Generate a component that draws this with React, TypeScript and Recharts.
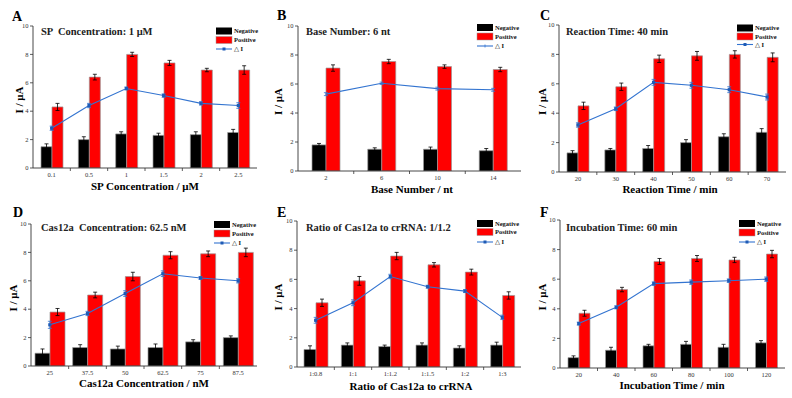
import React from 'react';
import { ComposedChart, Bar, Line, XAxis, YAxis, ErrorBar } from 'recharts';

const FONT = "'Liberation Serif', 'Times New Roman', 'DejaVu Serif', serif";

// ---- Panel A: SP concentration ----
const spCategories = ['0.1', '0.5', '1', '1.5', '2', '2.5'];
const spNegative = [1.5, 2.0, 2.4, 2.3, 2.35, 2.5];
const spNegativeErr = [0.2, 0.2, 0.15, 0.15, 0.2, 0.22];
const spPositive = [4.3, 6.4, 8.0, 7.4, 6.9, 6.9];
const spPositiveErr = [0.25, 0.2, 0.15, 0.18, 0.12, 0.3];
const spDelta = [2.8, 4.4, 5.6, 5.1, 4.55, 4.4];
const spDeltaErr = [0.15, 0.15, 0.1, 0.12, 0.12, 0.2];

// ---- Panel B: base number ----
const baseCategories = ['2', '6', '10', '14'];
const baseNegative = [1.8, 1.5, 1.5, 1.4];
const baseNegativeErr = [0.1, 0.1, 0.15, 0.15];
const basePositive = [7.1, 7.55, 7.2, 7.0];
const basePositiveErr = [0.22, 0.15, 0.12, 0.15];
const baseDelta = [5.3, 6.05, 5.68, 5.6];
const baseDeltaErr = [0.1, 0.08, 0.1, 0.1];

// ---- Panel C: reaction time ----
const reactCategories = ['20', '30', '40', '50', '60', '70'];
const reactNegative = [1.3, 1.5, 1.6, 2.0, 2.4, 2.7];
const reactNegativeErr = [0.15, 0.1, 0.2, 0.2, 0.2, 0.25];
const reactPositive = [4.5, 5.8, 7.7, 7.9, 8.0, 7.8];
const reactPositiveErr = [0.25, 0.25, 0.25, 0.3, 0.25, 0.3];
const reactDelta = [3.2, 4.3, 6.1, 5.9, 5.6, 5.1];
const reactDeltaErr = [0.15, 0.12, 0.2, 0.2, 0.2, 0.2];

// ---- Panel D: Cas12a concentration ----
const casCategories = ['25', '37.5', '50', '62.5', '75', '87.5'];
const casNegative = [0.9, 1.3, 1.2, 1.3, 1.7, 2.0];
const casNegativeErr = [0.3, 0.2, 0.2, 0.25, 0.15, 0.12];
const casPositive = [3.8, 5.0, 6.3, 7.8, 7.9, 8.0];
const casPositiveErr = [0.25, 0.2, 0.3, 0.25, 0.2, 0.3];
const casDelta = [2.9, 3.7, 5.1, 6.5, 6.2, 6.0];
const casDeltaErr = [0.25, 0.15, 0.2, 0.2, 0.1, 0.15];

// ---- Panel E: ratio Cas12a : crRNA ----
const ratioCategories = ['1:0.8', '1:1', '1:1.2', '1:1.5', '1:2', '1:3'];
const ratioNegative = [1.2, 1.5, 1.4, 1.5, 1.3, 1.5];
const ratioNegativeErr = [0.25, 0.15, 0.1, 0.15, 0.15, 0.2];
const ratioPositive = [4.4, 5.9, 7.6, 7.0, 6.5, 4.9];
const ratioPositiveErr = [0.25, 0.3, 0.25, 0.15, 0.2, 0.25];
const ratioDelta = [3.2, 4.4, 6.2, 5.5, 5.2, 3.4];
const ratioDeltaErr = [0.2, 0.2, 0.15, 0.1, 0.1, 0.15];

// ---- Panel F: incubation time ----
const incubCategories = ['20', '40', '60', '80', '100', '120'];
const incubNegative = [0.7, 1.2, 1.5, 1.6, 1.4, 1.7];
const incubNegativeErr = [0.12, 0.2, 0.1, 0.2, 0.2, 0.15];
const incubPositive = [3.7, 5.3, 7.2, 7.4, 7.3, 7.7];
const incubPositiveErr = [0.2, 0.15, 0.2, 0.2, 0.18, 0.25];
const incubDelta = [3.0, 4.1, 5.7, 5.8, 5.9, 6.0];
const incubDeltaErr = [0.1, 0.1, 0.12, 0.15, 0.12, 0.15];

const yTicks = [0, 2, 4, 6, 8, 10];

const RED = '#ff0000';
const BLUE = '#3374d0';
const BLUE_DARK = '#1f5bb5';
const AXIS = '#333333';

type PanelCfg = {
  letter: string;
  title: string;
  xLabel: string;
  categories: string[];
  neg: number[];
  negErr: number[];
  pos: number[];
  posErr: number[];
  delta: number[];
  deltaErr: number[];
  left: number;
  top: number;
  height: number;
  x0: number;
  x1: number;
  yTop: number;
  yBot: number;
  barSize: number;
  letterPos: [number, number];
  titlePos: [number, number];
  legendX: number;
  legendRows: [number, number, number];
  xLabelPos: [number, number];
  yLabelX: number;
  dots: boolean;
};

const panels: PanelCfg[] = [
  {
    letter: 'A', title: 'SP  Concentration: 1 μM', xLabel: 'SP Concentration / μM',
    categories: spCategories, neg: spNegative, negErr: spNegativeErr, pos: spPositive, posErr: spPositiveErr, delta: spDelta, deltaErr: spDeltaErr,
    left: 0, top: 0, height: 200, x0: 33, x1: 257, yTop: 26, yBot: 168, barSize: 11,
    letterPos: [12, 20.5], titlePos: [41, 34.5], legendX: 216, legendRows: [31, 40, 49], xLabelPos: [145, 189.5], yLabelX: 23, dots: true,
  },
  {
    letter: 'B', title: 'Base Number: 6 nt', xLabel: 'Base Number / nt',
    categories: baseCategories, neg: baseNegative, negErr: baseNegativeErr, pos: basePositive, posErr: basePositiveErr, delta: baseDelta, deltaErr: baseDeltaErr,
    left: 264, top: 0, height: 200, x0: 298, x1: 521, yTop: 26, yBot: 171, barSize: 14,
    letterPos: [277, 20], titlePos: [306, 35], legendX: 477, legendRows: [27.5, 36.5, 46], xLabelPos: [412, 192.5], yLabelX: 282, dots: false,
  },
  {
    letter: 'C', title: 'Reaction Time: 40 min', xLabel: 'Reaction Time / min',
    categories: reactCategories, neg: reactNegative, negErr: reactNegativeErr, pos: reactPositive, posErr: reactPositiveErr, delta: reactDelta, deltaErr: reactDeltaErr,
    left: 528, top: 0, height: 200, x0: 559, x1: 786, yTop: 25, yBot: 172, barSize: 11,
    letterPos: [540, 20], titlePos: [566, 35], legendX: 737, legendRows: [28, 36.5, 44.5], xLabelPos: [670, 192.5], yLabelX: 546, dots: true,
  },
  {
    letter: 'D', title: 'Cas12a  Concentration: 62.5 nM', xLabel: 'Cas12a Concentration / nM',
    categories: casCategories, neg: casNegative, negErr: casNegativeErr, pos: casPositive, posErr: casPositiveErr, delta: casDelta, deltaErr: casDeltaErr,
    left: 0, top: 200, height: 198, x0: 31, x1: 257, yTop: 224, yBot: 366, barSize: 15,
    letterPos: [13, 217], titlePos: [41, 231], legendX: 214, legendRows: [224.5, 233.5, 243], xLabelPos: [144, 386.5], yLabelX: 17, dots: true,
  },
  {
    letter: 'E', title: 'Ratio of Cas12a to crRNA: 1/1.2', xLabel: 'Ratio of Cas12a to crRNA',
    categories: ratioCategories, neg: ratioNegative, negErr: ratioNegativeErr, pos: ratioPositive, posErr: ratioPositiveErr, delta: ratioDelta, deltaErr: ratioDeltaErr,
    left: 264, top: 200, height: 198, x0: 297, x1: 521, yTop: 221, yBot: 367, barSize: 12,
    letterPos: [277, 217], titlePos: [306, 231], legendX: 477, legendRows: [223.5, 232, 242], xLabelPos: [411, 389.5], yLabelX: 282, dots: true,
  },
  {
    letter: 'F', title: 'Incubation Time: 60 min', xLabel: 'Incubation Time / min',
    categories: incubCategories, neg: incubNegative, negErr: incubNegativeErr, pos: incubPositive, posErr: incubPositiveErr, delta: incubDelta, deltaErr: incubDeltaErr,
    left: 528, top: 200, height: 198, x0: 560, x1: 785, yTop: 220, yBot: 368, barSize: 11,
    letterPos: [540, 217], titlePos: [566, 231], legendX: 739, legendRows: [223.5, 232.5, 242], xLabelPos: [672, 388.5], yLabelX: 546, dots: true,
  },
];

const SquareDot = (props: any) => {
  const { cx, cy } = props;
  if (cx == null || cy == null) return null;
  return <rect x={cx - 1.6} y={cy - 1.6} width={3.2} height={3.2} fill={BLUE_DARK} />;
};

const txt = (size: number, bold = true, color = '#000'): React.CSSProperties => ({
  fontFamily: FONT,
  fontSize: size,
  fontWeight: bold ? 'bold' : 'normal',
  fill: color,
});

function Panel({ cfg }: { cfg: PanelCfg }) {
  const W = 264;
  const H = cfg.height;
  const data = cfg.categories.map((c, i) => ({
    cat: c,
    neg: cfg.neg[i],
    negErr: cfg.negErr[i],
    pos: cfg.pos[i],
    posErr: cfg.posErr[i],
    delta: cfg.delta[i],
    deltaErr: cfg.deltaErr[i],
  }));
  const yAxisWidth = cfg.x0 - cfg.left;
  const axisYLocal = cfg.yBot - cfg.top;
  const xAxisHeight = H - axisYLocal;
  const n = cfg.categories.length;
  const band = (cfg.x1 - cfg.x0) / n;

  const XTick = (props: any) => {
    const { x, payload, index } = props;
    return (
      <g>
        <text x={x} y={axisYLocal + 9} textAnchor="middle" style={txt(6.5, false, AXIS)}>
          {payload.value}
        </text>
        {index < n - 1 && (
          <line x1={x + band / 2} x2={x + band / 2} y1={axisYLocal} y2={axisYLocal + 3} stroke={AXIS} strokeWidth={0.8} />
        )}
      </g>
    );
  };

  const YTick = (props: any) => {
    const { x, y, payload } = props;
    return (
      <text x={x} y={y + 2.2} textAnchor="end" style={txt(6.5, false, AXIS)}>
        {payload.value}
      </text>
    );
  };

  const L = (gx: number) => gx - cfg.left;
  const T = (gy: number) => gy - cfg.top;
  const [r1, r2, r3] = cfg.legendRows;
  const lx = L(cfg.legendX);
  const plotMidY = T((cfg.yTop + cfg.yBot) / 2 + 3);

  return (
    <div style={{ position: 'absolute', left: cfg.left, top: cfg.top, width: W, height: H }}>
      <ComposedChart
        width={W}
        height={H}
        data={data}
        margin={{ top: cfg.yTop - cfg.top, right: cfg.left + W - cfg.x1, bottom: 0, left: 0 }}
        barGap={0}
        barSize={cfg.barSize}
      >
        <XAxis
          dataKey="cat"
          height={xAxisHeight}
          interval={0}
          axisLine={{ stroke: AXIS, strokeWidth: 0.9 }}
          tickLine={false}
          tick={XTick}
        />
        <YAxis
          width={yAxisWidth}
          domain={[0, 10]}
          ticks={yTicks}
          allowDataOverflow
          axisLine={{ stroke: AXIS, strokeWidth: 0.9 }}
          tickLine={{ stroke: AXIS, strokeWidth: 0.8 }}
          tickSize={3}
          tickMargin={1.5}
          tick={YTick}
        />
        <Bar dataKey="neg" fill="#000000" stroke="#9a9a9a" strokeWidth={0.7} isAnimationActive={false}>
          <ErrorBar dataKey="negErr" direction="y" width={2} stroke="#000" strokeWidth={0.8} />
        </Bar>
        <Bar dataKey="pos" fill={RED} stroke="#9a9a9a" strokeWidth={0.7} isAnimationActive={false}>
          <ErrorBar dataKey="posErr" direction="y" width={2} stroke="#000" strokeWidth={0.8} />
        </Bar>
        <Line
          dataKey="delta"
          stroke={BLUE}
          strokeWidth={1.1}
          dot={cfg.dots ? <SquareDot /> : false}
          activeDot={false}
          isAnimationActive={false}
        >
          <ErrorBar dataKey="deltaErr" direction="y" width={2} stroke={BLUE} strokeWidth={0.8} />
        </Line>
      </ComposedChart>
      <svg
        width={W}
        height={H}
        style={{ position: 'absolute', left: 0, top: 0, pointerEvents: 'none', overflow: 'visible' }}
      >
        <text x={L(cfg.letterPos[0])} y={T(cfg.letterPos[1])} style={txt(14)}>
          {cfg.letter}
        </text>
        <text
          x={L(cfg.titlePos[0])}
          y={T(cfg.titlePos[1])}
          style={{ ...txt(10.5, true, '#222'), whiteSpace: 'pre' }}
          xmlSpace="preserve"
        >
          {cfg.title}
        </text>
        <text x={L(cfg.xLabelPos[0])} y={T(cfg.xLabelPos[1])} textAnchor="middle" style={txt(11)}>
          {cfg.xLabel}
        </text>
        <text
          x={L(cfg.yLabelX)}
          y={plotMidY}
          textAnchor="middle"
          style={txt(11)}
          transform={`rotate(-90 ${L(cfg.yLabelX)} ${plotMidY})`}
        >
          I / μA
        </text>
        {/* legend */}
        <rect x={lx} y={T(r1) - 3.5} width={16} height={7} fill="#000" />
        <text x={lx + 18} y={T(r1) + 2.2} style={txt(6.5, true, '#111')}>Negative</text>
        <rect x={lx} y={T(r2) - 3.5} width={16} height={7} fill={RED} stroke="#9a9a9a" strokeWidth={0.5} />
        <text x={lx + 18} y={T(r2) + 2.2} style={txt(6.5, true, '#111')}>Positive</text>
        <line x1={lx} x2={lx + 16} y1={T(r3)} y2={T(r3)} stroke={BLUE} strokeWidth={1.1} />
        {cfg.dots ? (
          <rect x={lx + 8 - 1.5} y={T(r3) - 1.5} width={3} height={3} fill={BLUE_DARK} />
        ) : (
          <line x1={lx + 8} x2={lx + 8} y1={T(r3) - 1.5} y2={T(r3) + 1.5} stroke={BLUE} strokeWidth={0.8} />
        )}
        <text x={lx + 18} y={T(r3) + 2.2} style={txt(6.5, true, '#111')}>△ I</text>
      </svg>
    </div>
  );
}

export default function App() {
  return (
    <div style={{ position: 'absolute', left: 0, top: 0, width: 792, height: 398, background: '#fff', overflow: 'hidden' }}>
      {panels.map((p) => (
        <Panel key={p.letter} cfg={p} />
      ))}
    </div>
  );
}
